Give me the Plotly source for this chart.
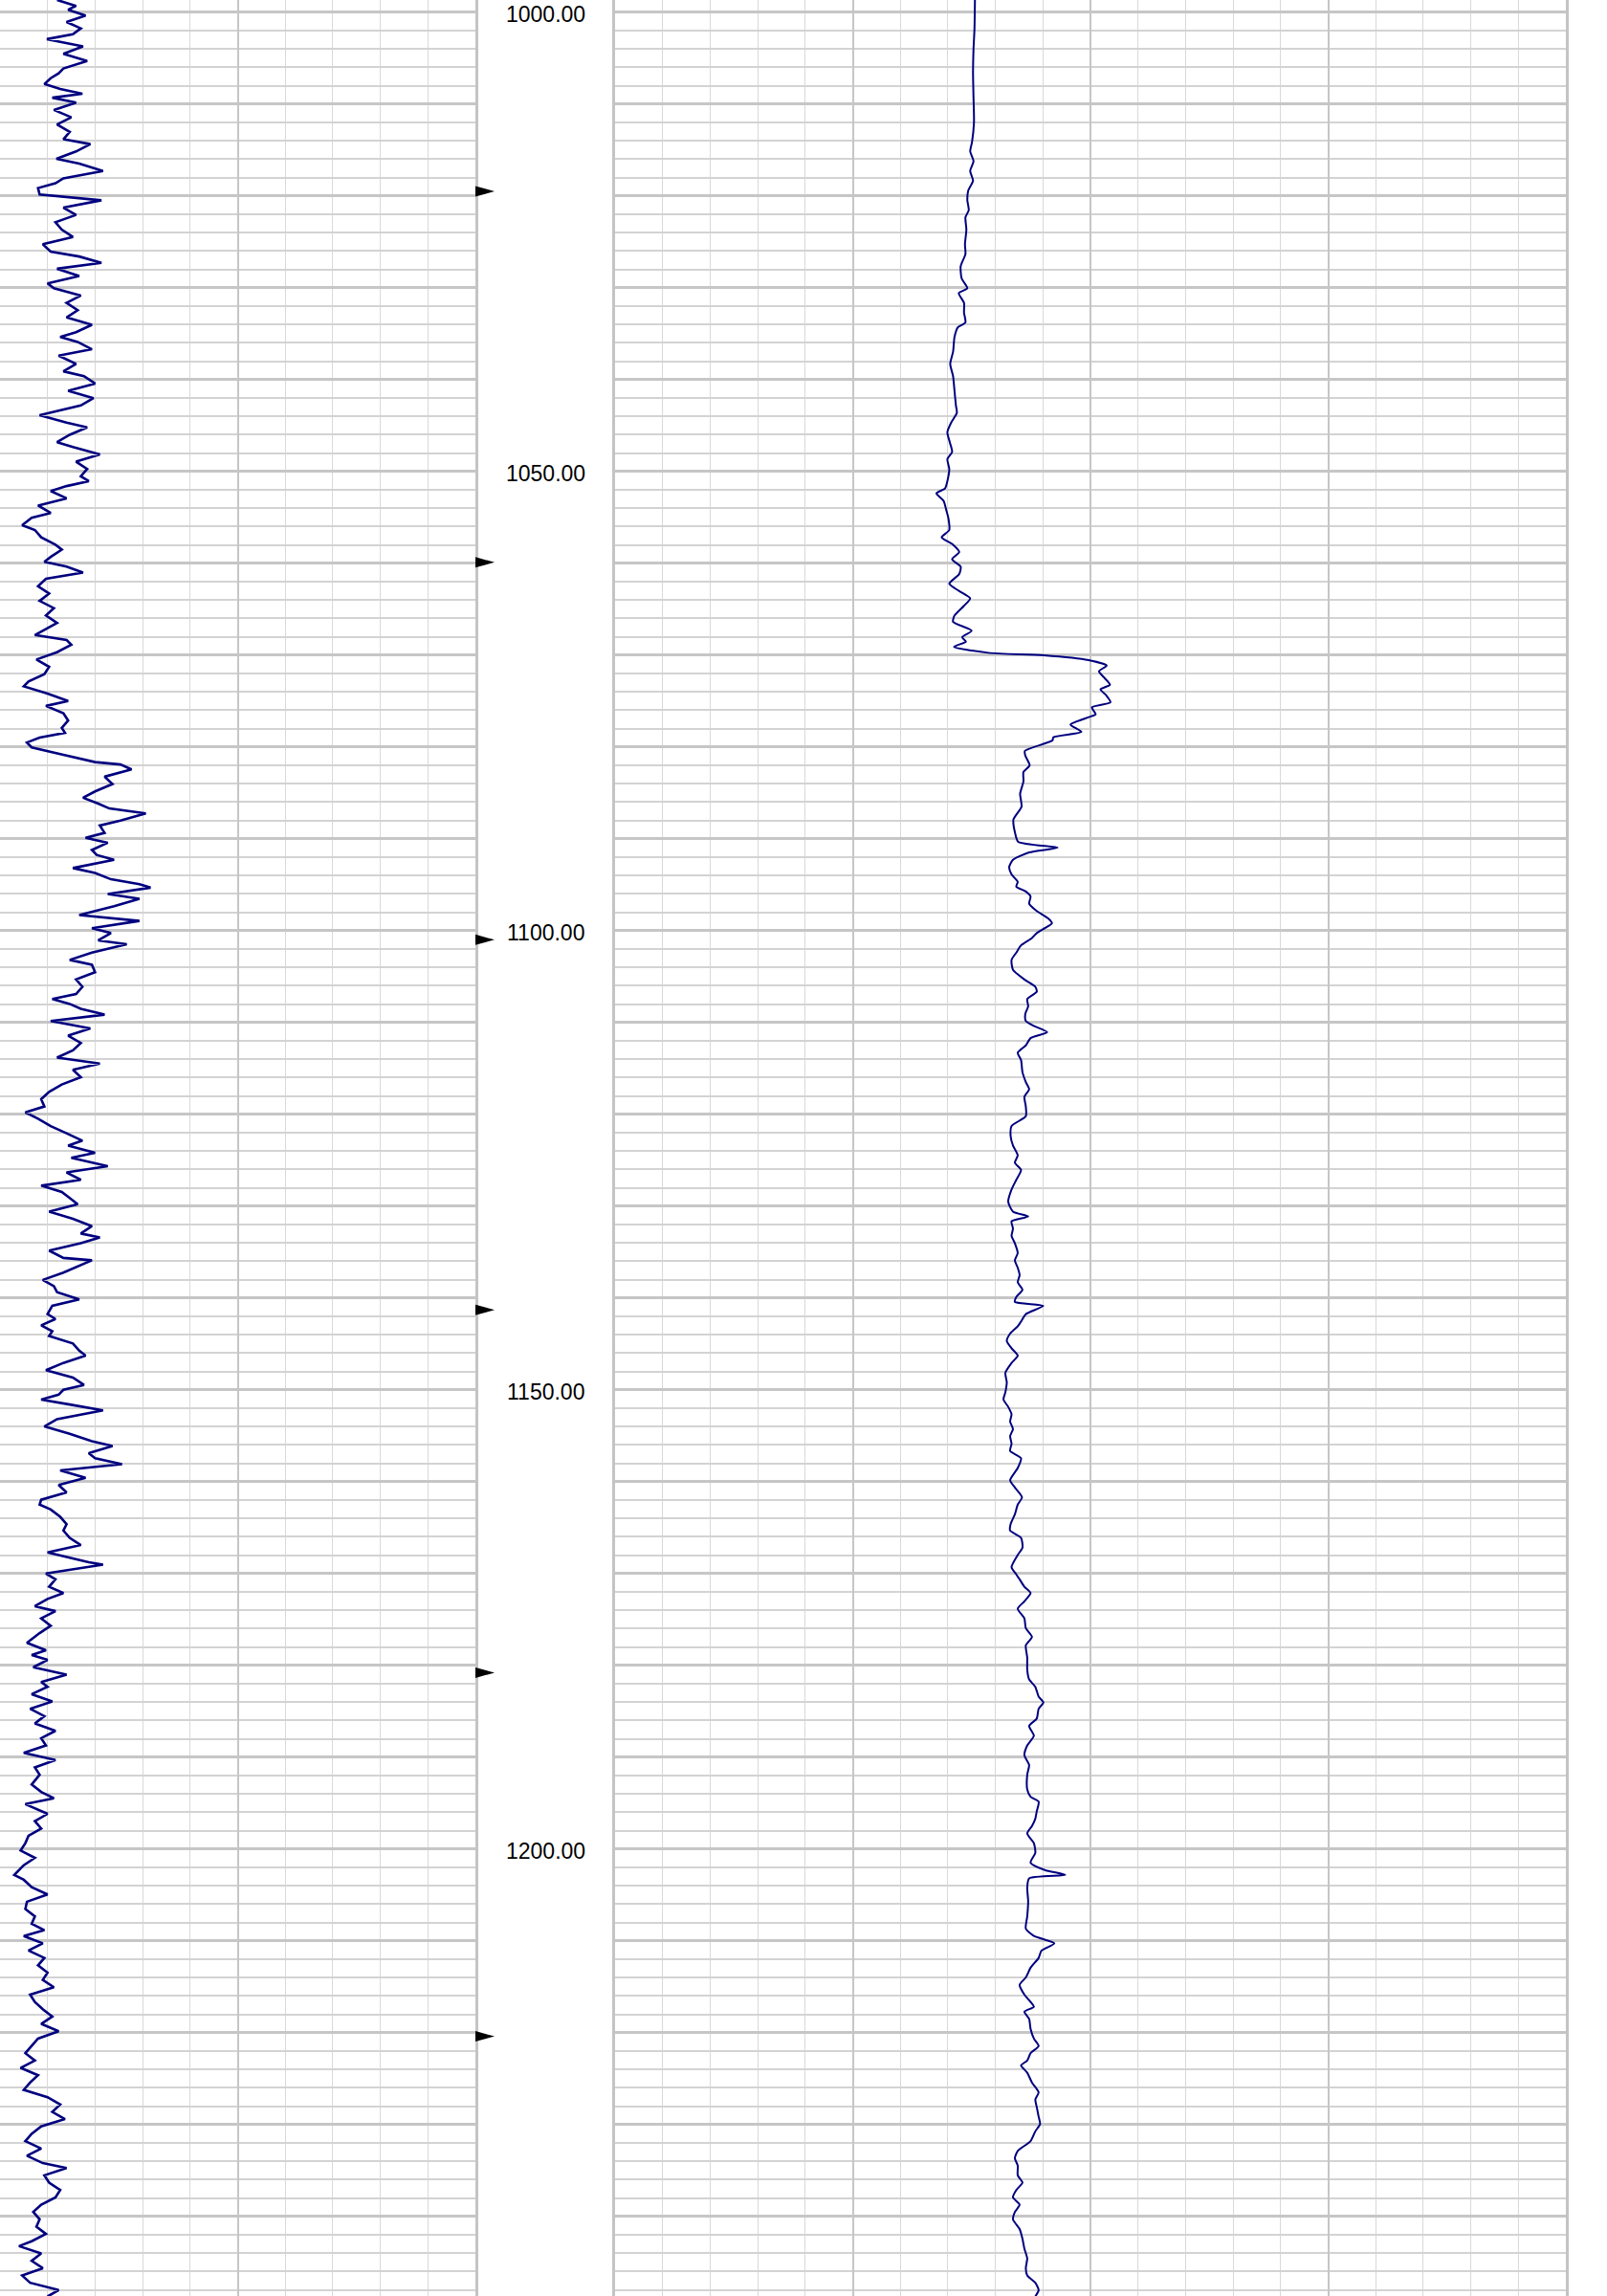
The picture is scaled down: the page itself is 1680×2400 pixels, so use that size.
import plotly.graph_objects as go

# ---------------- data ----------------
gr_depth = [
    998.67, 999.31, 999.73, 1000.37, 1001.06, 1001.76, 1002.39, 1002.93, 1003.72, 1004.52,
    1005.32, 1006.12, 1006.65, 1007.18, 1007.82, 1008.35, 1008.88, 1009.31, 1009.84, 1010.64,
    1011.44, 1012.23, 1013.03, 1013.83, 1014.36, 1015.16, 1015.96, 1016.49, 1017.29, 1018.09,
    1018.62, 1019.15, 1019.84, 1020.48, 1021.28, 1022.07, 1022.87, 1023.67, 1024.47, 1025.27,
    1026.06, 1026.60, 1027.29, 1027.93, 1028.72, 1029.52, 1030.05, 1030.85, 1031.65, 1032.45,
    1033.24, 1034.04, 1034.84, 1035.37, 1035.90, 1036.70, 1037.39, 1038.30, 1039.10, 1039.63,
    1040.43, 1041.22, 1042.02, 1042.82, 1043.88, 1044.68, 1045.21, 1046.01, 1046.81, 1047.34,
    1048.14, 1048.94, 1049.73, 1050.53, 1051.06, 1051.60, 1052.13, 1052.93, 1053.72, 1054.52,
    1055.05, 1055.85, 1056.38, 1057.18, 1057.98, 1058.51, 1059.31, 1059.84, 1060.37, 1061.01,
    1061.70, 1062.50, 1063.30, 1064.10, 1064.89, 1065.69, 1066.49, 1067.29, 1067.82, 1068.35,
    1068.88, 1069.68, 1070.48, 1071.28, 1072.07, 1072.87, 1073.40, 1074.20, 1075.00, 1075.53,
    1076.33, 1077.13, 1077.93, 1078.46, 1078.99, 1079.52, 1080.05, 1080.85, 1081.65,
    1081.91, 1082.45, 1083.24, 1084.04, 1084.84, 1085.53, 1086.17, 1086.70, 1087.23, 1088.03,
    1088.56, 1089.36, 1089.89, 1090.43, 1091.22, 1091.76, 1092.29, 1093.19, 1093.72, 1094.41,
    1094.95, 1095.32, 1096.01, 1096.54, 1097.34, 1098.30, 1098.94, 1099.73, 1100.27, 1101.06,
    1101.49, 1102.39, 1103.19, 1103.72, 1104.52, 1105.32, 1106.12, 1106.91, 1107.45, 1107.98,
    1108.51, 1109.15, 1109.84, 1110.64, 1111.44, 1112.23, 1113.03, 1113.83, 1114.47, 1115.16,
    1115.96, 1116.76, 1117.55, 1118.35, 1119.15, 1119.79, 1120.48, 1121.28, 1122.07, 1122.87,
    1123.40, 1124.20, 1124.73, 1125.64, 1126.33, 1127.13, 1127.77, 1128.46, 1128.99, 1129.79,
    1130.59, 1131.38, 1132.18, 1132.98, 1133.40, 1134.04, 1134.84, 1135.64, 1135.90, 1136.70,
    1137.23, 1138.03, 1138.72, 1139.36, 1140.16, 1140.85, 1141.76, 1142.29, 1142.98, 1143.62,
    1144.15, 1144.95, 1145.74, 1146.28, 1147.07, 1147.87, 1148.67, 1149.47, 1150.00, 1150.53,
    1151.06, 1151.60, 1152.23, 1153.19, 1153.99, 1154.79, 1155.59, 1156.12, 1156.91, 1157.45,
    1158.09, 1158.78, 1159.57, 1160.37, 1161.17, 1161.97, 1162.50, 1163.03, 1163.83, 1164.63,
    1165.32, 1166.12, 1166.91, 1167.71, 1168.24, 1168.78, 1169.04, 1169.47, 1170.00, 1170.64,
    1171.44, 1172.13, 1172.77, 1173.56, 1174.10, 1174.89, 1175.69, 1176.49, 1177.55, 1178.35,
    1178.88, 1179.41, 1180.21, 1181.01, 1181.81, 1182.34, 1183.14, 1183.94, 1184.73, 1185.53,
    1186.33, 1187.13, 1187.93, 1188.72, 1189.52, 1190.32, 1191.12, 1191.91, 1192.98, 1193.78,
    1194.47, 1195.11, 1196.17, 1196.97, 1197.77, 1198.56, 1199.36, 1200.16, 1200.96, 1201.76,
    1202.82, 1203.35, 1204.15, 1204.95, 1205.74, 1206.54, 1207.34, 1208.14, 1208.83, 1209.47,
    1210.27, 1211.06, 1211.86, 1212.66, 1213.46, 1214.26, 1215.05, 1215.85, 1216.65, 1217.45,
    1218.24, 1219.04, 1219.84, 1220.64, 1221.44, 1222.23, 1223.03, 1223.83, 1224.63, 1225.43,
    1226.22, 1227.02, 1227.82, 1228.62, 1229.41, 1230.21, 1231.01, 1231.81, 1232.61, 1233.40,
    1234.20, 1234.73, 1235.53, 1236.33, 1237.13, 1237.93, 1238.72, 1239.52, 1240.32, 1241.12,
    1241.91, 1242.71, 1243.24, 1244.04, 1244.84, 1245.64, 1246.44, 1247.23, 1248.03, 1248.72,
]
gr_api = [
    18.0, 24.0, 21.5, 27.0, 21.0, 25.5, 23.0, 14.8, 26.2, 20.0,
    27.5, 20.0, 18.5, 16.0, 14.0, 19.0, 26.0, 16.5, 24.0, 17.0,
    22.5, 18.0, 22.0, 20.0, 28.5, 24.0, 17.8, 25.0, 32.5, 20.0,
    17.5, 12.0, 12.5, 32.0, 20.0, 24.0, 17.5, 19.5, 23.0, 13.5,
    16.0, 25.0, 32.0, 18.0, 25.0, 15.0, 17.0, 25.5, 21.0, 24.5,
    21.0, 29.0, 24.0, 19.0, 24.5, 29.0, 18.5, 24.0, 20.0, 26.5,
    30.0, 21.5, 29.5, 25.5, 12.5, 21.0, 27.5, 22.0, 18.0, 23.0,
    31.5, 24.0, 27.5, 25.5, 28.0, 21.0, 16.0, 21.0, 12.0, 16.0,
    10.0, 7.0, 11.0, 13.0, 17.5, 19.5, 16.0, 14.0, 21.0, 26.2,
    14.5, 12.0, 15.5, 12.5, 17.0, 14.5, 18.0, 14.0, 11.0, 21.0,
    22.5, 18.0, 11.5, 15.5, 14.0, 9.0, 7.5, 15.0, 21.5, 14.5,
    20.0, 21.5, 19.5, 20.5, 12.5, 8.5, 10.0, 20.0, 30.0,
    38.0, 41.5, 33.0, 35.5, 30.0, 26.2, 31.0, 34.5, 46.0, 38.0,
    31.5, 33.0, 27.0, 34.0, 29.0, 30.5, 36.0, 23.0, 30.0, 35.0,
    44.0, 47.5, 34.0, 44.0, 36.0, 25.0, 44.0, 29.0, 35.0, 31.0,
    40.0, 29.0, 22.0, 29.0, 30.0, 24.0, 26.0, 24.0, 16.5, 22.0,
    25.5, 33.0, 16.0, 28.5, 21.5, 25.5, 23.0, 18.0, 31.5, 23.0,
    25.5, 19.5, 15.5, 13.0, 14.0, 8.0, 12.0, 16.0, 21.0, 26.0,
    21.5, 30.0, 22.5, 34.0, 21.0, 25.5, 13.0, 19.5, 21.5, 24.5,
    15.5, 23.0, 29.0, 25.5, 31.5, 25.5, 15.5, 20.0, 29.0, 23.5,
    20.0, 13.5, 17.0, 18.0, 25.0, 16.5, 15.0, 17.5, 13.0, 16.5,
    15.5, 23.0, 25.0, 27.0, 20.0, 14.5, 23.0, 26.5, 20.0, 18.5,
    13.0, 22.0, 32.5, 18.0, 14.0, 22.0, 29.0, 35.5, 28.0, 30.0,
    38.5, 19.0, 27.0, 18.5, 21.0, 13.0, 12.5, 16.0, 19.0, 21.0,
    20.0, 22.0, 25.5, 15.0, 21.5, 28.0, 32.5, 25.0, 14.5, 17.5,
    15.5, 20.0, 15.0, 11.0, 17.5, 13.0, 16.0, 12.5, 8.5, 14.5,
    10.0, 15.0, 10.5, 21.0, 13.0, 15.0, 10.0, 16.5, 9.5, 14.0,
    11.0, 17.5, 13.0, 14.5, 7.5, 17.5, 11.0, 12.5, 10.0, 13.0,
    17.0, 8.0, 15.0, 11.0, 13.0, 9.0, 8.0, 6.5, 11.0, 7.5,
    4.5, 7.5, 10.0, 15.0, 8.5, 8.0, 11.0, 10.0, 14.0, 7.5,
    13.5, 9.0, 14.0, 12.0, 15.0, 13.5, 17.0, 9.5, 11.0, 13.5,
    16.5, 13.0, 18.5, 12.0, 10.0, 8.0, 11.0, 6.5, 12.0, 9.5,
    7.5, 15.0, 19.0, 16.5, 20.5, 13.0, 10.0, 8.0, 13.0, 8.5,
    13.5, 21.0, 14.0, 15.5, 19.0, 17.5, 13.0, 10.5, 12.5, 11.5,
    14.5, 10.0, 6.0, 13.0, 10.0, 13.5, 7.0, 9.5, 18.5, 15.0,
]

dt_depth = [
    998.67, 1001.86, 1003.99, 1006.65, 1009.31, 1011.97, 1014.10, 1015.16, 1016.22, 1017.29,
    1018.35, 1019.41, 1020.48, 1021.54, 1022.34, 1023.67, 1025.27, 1026.33, 1027.66, 1028.99,
    1030.05, 1030.59, 1031.65, 1032.71, 1033.78, 1034.31, 1035.37, 1036.97, 1038.30, 1039.63,
    1041.22, 1042.82, 1043.62, 1044.68, 1045.74, 1046.81, 1047.87, 1048.67, 1049.73, 1051.06,
    1051.86, 1052.39, 1053.19, 1054.26, 1055.05, 1056.38, 1057.18, 1057.98, 1058.78, 1059.57,
    1060.37, 1061.17, 1062.23, 1063.03, 1063.83, 1064.63, 1065.69, 1066.38, 1067.35, 1068.05,
    1068.54, 1069.09, 1069.75, 1070.03, 1070.55, 1071.14, 1071.76, 1072.46, 1073.22, 1073.74,
    1074.37, 1075.13, 1075.69, 1076.45, 1076.73, 1077.57, 1078.36, 1078.95, 1079.30, 1080.44,
    1080.96, 1082.00, 1082.73, 1083.77, 1085.10, 1086.50, 1087.90, 1089.27, 1090.33, 1090.96,
    1091.49, 1092.29, 1093.09, 1093.88, 1094.68, 1095.21, 1095.74, 1096.28, 1097.07, 1097.87,
    1098.67, 1099.20, 1099.73, 1100.27, 1100.80, 1101.60, 1102.39, 1103.19, 1104.26, 1105.32,
    1106.12, 1106.65, 1107.45, 1108.24, 1109.04, 1109.84, 1110.37, 1111.06, 1111.70, 1112.50,
    1113.30, 1114.10, 1115.43, 1116.49, 1117.29, 1118.09, 1119.15, 1120.21, 1121.28, 1122.34,
    1123.40, 1124.47, 1125.27, 1126.06, 1127.13, 1128.19, 1129.52, 1130.59, 1131.12, 1131.65,
    1132.45, 1133.24, 1134.04, 1135.11, 1135.90, 1136.70, 1137.50, 1138.30, 1139.10, 1139.89,
    1140.43, 1140.85, 1141.76, 1142.55, 1143.09, 1143.88, 1144.68, 1145.48, 1146.28, 1147.07,
    1148.14, 1149.20, 1150.27, 1151.06, 1151.86, 1152.66, 1153.46, 1154.26, 1155.05, 1155.85,
    1156.65, 1157.45, 1158.51, 1159.84, 1160.64, 1161.70, 1162.50, 1163.56, 1164.63, 1165.32,
    1166.12, 1167.18, 1167.98, 1169.31, 1170.11, 1170.64, 1171.44, 1172.13, 1173.03, 1173.83,
    1174.89, 1175.96, 1176.91, 1177.82, 1179.15, 1180.48, 1181.54, 1182.34, 1183.40, 1184.04,
    1184.73, 1185.80, 1186.60, 1187.66, 1188.72, 1189.79, 1190.85, 1191.91, 1193.51, 1194.31,
    1194.84, 1195.90, 1196.70, 1197.50, 1198.30, 1199.36, 1200.43, 1201.49, 1202.29, 1202.82,
    1203.19, 1204.15, 1205.74, 1207.34, 1208.67, 1209.47, 1210.27, 1211.06, 1211.86, 1212.93,
    1213.99, 1214.79, 1215.85, 1216.65, 1217.18, 1217.71, 1218.51, 1219.57, 1220.64, 1221.44,
    1222.23, 1223.03, 1223.56, 1224.36, 1225.43, 1226.49, 1227.29, 1228.09, 1229.15, 1229.95,
    1230.74, 1231.81, 1232.87, 1233.67, 1234.47, 1235.53, 1236.33, 1237.13, 1237.93, 1238.72,
    1239.52, 1240.32, 1241.38, 1242.45, 1243.51, 1244.57, 1245.64, 1246.44, 1247.23, 1248.03,
    1248.72,
]
dt_value = [
    75.7, 75.6, 75.4, 75.3, 75.4, 75.5, 75.1, 74.7, 75.4, 74.7,
    75.3, 74.3, 74.1, 74.4, 73.7, 73.9, 73.6, 73.7, 72.7, 72.9,
    74.1, 72.3, 73.4, 73.4, 73.7, 72.1, 71.4, 71.1, 70.5, 71.1,
    71.4, 71.7, 71.9, 70.7, 69.9, 70.4, 70.9, 69.9, 70.3, 69.9,
    69.4, 67.6, 69.1, 69.7, 70.1, 70.3, 68.7, 71.1, 72.4, 70.9,
    72.7, 72.4, 70.3, 72.4, 74.7, 73.4, 71.4, 71.1, 75.0, 73.0,
    73.8, 71.3, 78.5, 90.2, 99.6, 103.4, 101.8, 102.9, 104.1, 102.1,
    103.3, 104.2, 100.3, 101.1, 99.8, 95.8, 98.1, 92.2, 92.0, 86.2,
    86.3, 87.2, 85.9, 85.9, 85.2, 85.5, 83.8, 84.1, 84.8, 93.1,
    87.1, 83.7, 82.9, 83.4, 84.7, 84.4, 86.4, 87.4, 87.1, 88.7,
    91.1, 91.9, 90.4, 88.7, 87.7, 85.4, 84.4, 83.4, 83.7, 86.1,
    88.4, 88.7, 86.7, 86.9, 86.3, 86.4, 88.1, 90.9, 87.4, 86.4,
    84.7, 85.4, 85.7, 86.4, 87.1, 86.1, 86.4, 86.4, 83.4, 83.2,
    83.7, 84.7, 84.1, 85.4, 84.4, 83.4, 82.7, 83.7, 86.9, 83.4,
    83.7, 83.4, 84.1, 84.7, 84.1, 84.7, 85.1, 84.7, 85.7, 84.4,
    84.1, 90.1, 86.4, 85.4, 84.7, 83.1, 82.4, 83.4, 84.7, 83.4,
    82.1, 82.4, 82.1, 81.7, 82.7, 83.4, 83.1, 83.7, 83.1, 83.4,
    83.1, 85.4, 84.7, 83.1, 84.1, 85.6, 84.7, 84.1, 83.2, 83.1,
    85.4, 85.7, 84.7, 83.4, 84.4, 85.1, 86.1, 87.4, 86.1, 84.7,
    86.1, 86.4, 87.7, 86.4, 86.7, 86.7, 87.1, 88.4, 89.1, 90.1,
    89.1, 88.7, 87.1, 88.1, 86.7, 86.1, 87.1, 86.7, 86.7, 87.4,
    89.1, 88.7, 88.4, 87.7, 86.7, 88.1, 88.4, 87.4, 90.4, 94.7,
    87.1, 86.7, 86.9, 86.7, 86.4, 88.1, 92.4, 89.7, 89.1, 87.4,
    86.4, 85.1, 86.1, 87.4, 88.1, 86.1, 87.1, 87.4, 88.1, 89.1,
    87.4, 86.7, 85.4, 86.7, 87.7, 89.1, 88.4, 88.7, 89.1, 89.4,
    88.4, 87.4, 84.7, 84.1, 84.7, 84.7, 85.7, 84.4, 83.7, 85.1,
    84.1, 83.7, 85.1, 85.7, 86.1, 86.7, 86.4, 86.7, 88.4, 89.1,
    88.4,
]

depth_labels = [1000, 1050, 1100, 1150, 1200]
marker_depths = [1019.5, 1059.9, 1101.0, 1141.3, 1180.8, 1220.4]

assert len(gr_depth) == len(gr_api)
assert len(dt_depth) == len(dt_value)

# ---------------- layout constants ----------------
W, H = 1680, 2400
DEPTH_TOP, DEPTH_BOTTOM = 998.67, 1248.67
PX_PER_M = H / (DEPTH_BOTTOM - DEPTH_TOP)
T1 = (0, 497 / W)
T2 = (497 / W, 643 / W)
T3 = (643 / W, 1637 / W)

CURVE = "#00007f"
MINOR_V = "#d9d9d9"
MAJOR_V = "#c6c6c6"
MINOR_H = "#d3d3d3"
MAJOR_H = "#c6c6c6"
BORDER = "#c4c4c4"

fig = go.Figure()
fig.add_trace(go.Scatter(x=gr_api, y=gr_depth, mode="lines",
                         line=dict(color=CURVE, width=2.6),
                         xaxis="x", yaxis="y", hoverinfo="skip"))
fig.add_trace(go.Scatter(x=dt_value, y=dt_depth, mode="lines",
                         line=dict(color=CURVE, width=2.0, shape="spline", smoothing=0.6),
                         xaxis="x3", yaxis="y3", hoverinfo="skip"))

# depth labels centred in the depth track
for d in depth_labels:
    fig.add_annotation(x=0.5, y=d, xref="x2", yref="y2", text=f"{d:.2f}",
                       showarrow=False, xanchor="center", yanchor="middle", yshift=-2,
                       font=dict(family="Liberation Sans, Arial, sans-serif",
                                 size=23, color="black"))

# triangular depth markers on the left edge of the depth track
track2_px = (T2[1] - T2[0]) * W
aw = 20 / track2_px
ah = 5.5 / PX_PER_M
ax, ay = [], []
for d in marker_depths:
    ax += [0, aw, 0, 0, None]
    ay += [d - ah, d, d + ah, d - ah, None]
fig.add_trace(go.Scatter(x=ax, y=ay, mode="lines", fill="toself",
                         fillcolor="black", line=dict(width=0, color="black"),
                         xaxis="x2", yaxis="y2", hoverinfo="skip"))

common_x = dict(showticklabels=False, ticks="", zeroline=False, showline=False)
ygrid = dict(range=[DEPTH_BOTTOM, DEPTH_TOP], tick0=1000, dtick=10,
             showgrid=True, gridcolor=MAJOR_H, gridwidth=2.5,
             minor=dict(tick0=1000, dtick=2, showgrid=True, gridcolor=MINOR_H, gridwidth=1.5),
             showticklabels=False, ticks="", zeroline=False,
             showline=True, mirror=True, linecolor=BORDER, linewidth=2.5)

fig.update_layout(
    width=W, height=H, margin=dict(l=0, r=0, t=0, b=0), autosize=False,
    showlegend=False, plot_bgcolor="white", paper_bgcolor="white",
    xaxis=dict(domain=list(T1), range=[0, 150], tick0=0, dtick=75,
               showgrid=True, gridcolor=MAJOR_V, gridwidth=2,
               minor=dict(dtick=15, showgrid=True, gridcolor=MINOR_V, gridwidth=1),
               anchor="y", **common_x),
    xaxis2=dict(domain=list(T2), range=[0, 1], showgrid=False, anchor="y2", **common_x),
    xaxis3=dict(domain=list(T3), range=[0, 200], tick0=0, dtick=50,
                showgrid=True, gridcolor=MAJOR_V, gridwidth=2,
                minor=dict(dtick=10, showgrid=True, gridcolor=MINOR_V, gridwidth=1),
                anchor="y3", **common_x),
    yaxis=dict(anchor="x", **ygrid),
    yaxis2=dict(anchor="x2", range=[DEPTH_BOTTOM, DEPTH_TOP], showgrid=False,
                showticklabels=False, ticks="", zeroline=False, showline=False),
    yaxis3=dict(anchor="x3", **ygrid),
)

fig.write_html("out.html", config={"displayModeBar": False},
               post_script="document.body.style.margin='0px';document.body.style.padding='0px';")
